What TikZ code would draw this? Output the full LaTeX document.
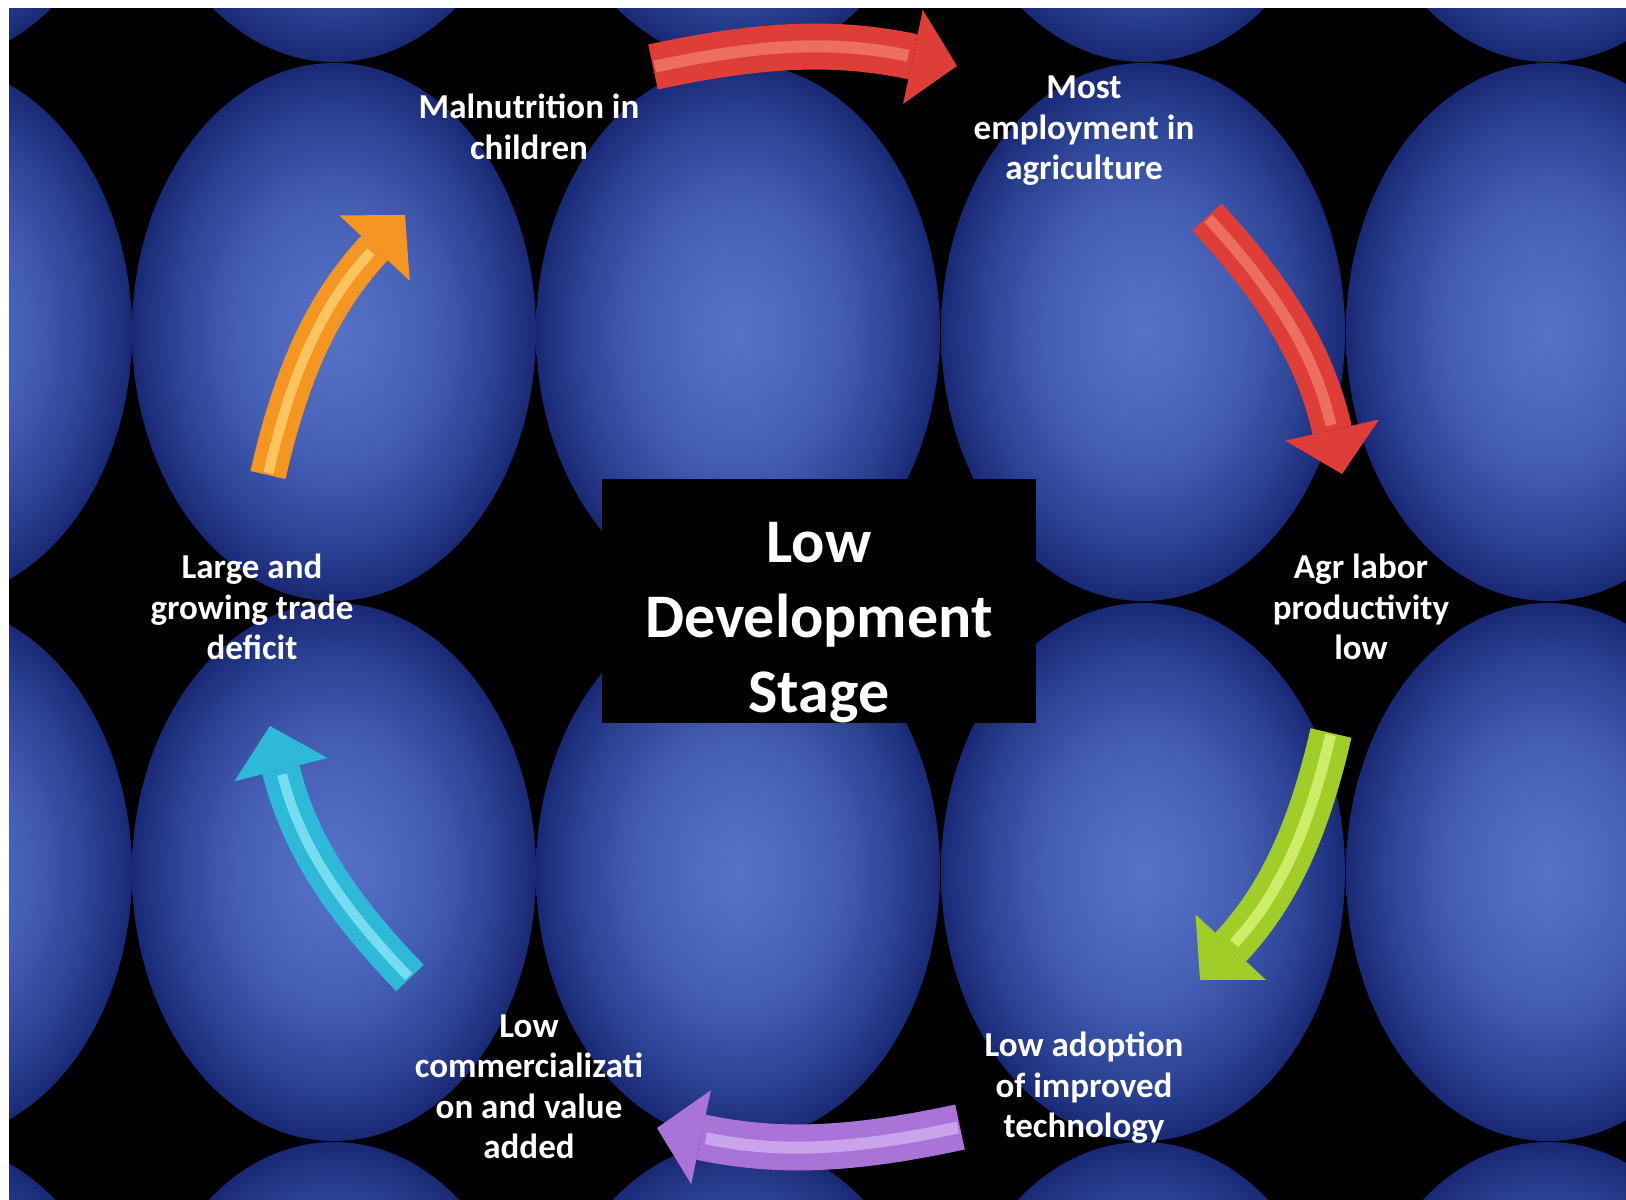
\documentclass[tikz,border=0pt]{standalone}
\usepackage{fontspec}
\setmainfont{Carlito}
\usetikzlibrary{arrows.meta}
\pgfdeclareradialshading{ballshade}{\pgfpoint{0bp}{0bp}}{rgb(0bp)=(0.34,0.45,0.78); rgb(12bp)=(0.27,0.37,0.71); rgb(20bp)=(0.17,0.26,0.58); rgb(25bp)=(0.10,0.16,0.46); rgb(50bp)=(0.10,0.16,0.46)}
\definecolor{redA}{RGB}{222,62,55}
\definecolor{redH}{RGB}{245,130,115}
\definecolor{grnA}{RGB}{160,205,40}
\definecolor{grnH}{RGB}{225,250,130}
\definecolor{purA}{RGB}{170,115,215}
\definecolor{purH}{RGB}{215,185,245}
\definecolor{cyaA}{RGB}{45,185,215}
\definecolor{cyaH}{RGB}{150,235,250}
\definecolor{orgA}{RGB}{245,150,35}
\definecolor{orgH}{RGB}{255,215,120}
\begin{document}
\begin{tikzpicture}[x=1pt,y=-1pt,
  lbl/.style={text=white,font=\bfseries\fontsize{35}{40.5}\selectfont,align=center,inner sep=0pt},
  corebox/.style={fill=black,text=white,font=\bfseries\fontsize{62}{75}\selectfont,align=center,minimum width=434pt,minimum height=243pt,inner sep=0pt},
  arr/.style={line width=#1,-{Triangle[length=45pt,width=96pt,line width=0pt]}},
  hl/.style={line width=#1,shorten >=50pt,shorten <=2pt,draw opacity=0.7}]
\useasboundingbox (0,0) rectangle (1626,1200);
\fill[white] (0,0) rectangle (1626,1200);
\fill[black] (9,8) rectangle (1626,1200);
\begin{scope}
\clip (9,8) rectangle (1626,1200);
\foreach \cx in {-70,334,738,1143,1548}{
  \foreach \cy in {-207,332,872,1411}{
    \shade[shading=ballshade] (\cx,\cy) ellipse [x radius=202pt, y radius=269pt];
  }
}
\end{scope}
% labels
\node[corebox] (core) at (819,601) {\rule{0pt}{84pt}Low\\Development\\Stage};
\node[lbl] (mal) at (529,127) {Malnutrition in\\children};
\node[lbl] (emp) at (1084,131) {Most\\employment in\\agriculture};
\node[lbl] (agr) at (1361,607) {Agr labor\\productivity\\low};
\node[lbl] (tech) at (1084,1088) {Low adoption\\of improved\\technology};
\node[lbl] (com) at (529,1087) {Low\\commercializati\\on and value\\added};
\node[lbl] (trade) at (252,607) {Large and\\growing trade\\deficit};
% arrow end points
\coordinate (a1s) at (653,67);  \coordinate (a1e) at (957,66);
\coordinate (a2s) at (1207,217); \coordinate (a2e) at (1342,474);
\coordinate (a3s) at (1331,733); \coordinate (a3e) at (1200,980);
\coordinate (a4s) at (960,1127); \coordinate (a4e) at (657,1128);
\coordinate (a5s) at (410,978);  \coordinate (a5e) at (270,726);
\coordinate (a6s) at (268,475);  \coordinate (a6e) at (405,215);
% arrows
\draw[arr=46pt,draw=redA] (a1s) to[bend left=12] (a1e);
\draw[hl=12pt,draw=redH] (a1s) to[bend left=12] (a1e);
\draw[arr=40pt,draw=redA] (a2s) to[bend left=15] (a2e);
\draw[hl=11pt,draw=redH] (a2s) to[bend left=15] (a2e);
\draw[arr=42pt,draw=grnA] (a3s) to[bend left=15] (a3e);
\draw[hl=11pt,draw=grnH] (a3s) to[bend left=15] (a3e);
\draw[arr=46pt,draw=purA] (a4s) to[bend left=12] (a4e);
\draw[hl=12pt,draw=purH] (a4s) to[bend left=12] (a4e);
\draw[arr=38pt,draw=cyaA] (a5s) to[bend left=15] (a5e);
\draw[hl=10pt,draw=cyaH] (a5s) to[bend left=15] (a5e);
\draw[arr=36pt,draw=orgA] (a6s) to[bend left=15] (a6e);
\draw[hl=10pt,draw=orgH] (a6s) to[bend left=15] (a6e);
\end{tikzpicture}
\end{document}
